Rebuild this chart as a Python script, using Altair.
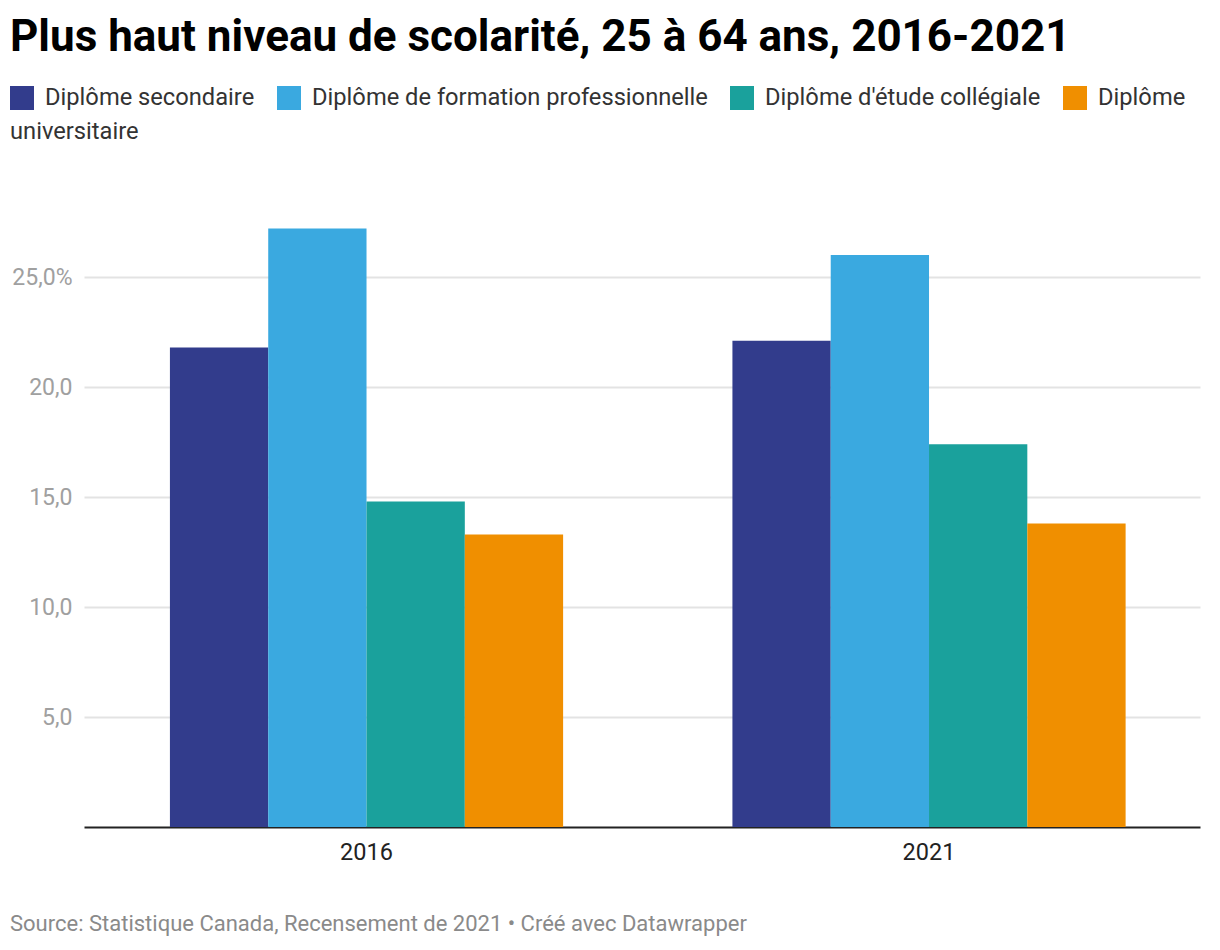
import altair as alt
import pandas as pd

years = ["2016", "2021"]
categories = [
    "Diplôme secondaire",
    "Diplôme de formation professionnelle",
    "Diplôme d'étude collégiale",
    "Diplôme universitaire",
]
secondaire = [21.8, 22.1]
professionnelle = [27.2, 26.0]
collegiale = [14.8, 17.4]
universitaire = [13.3, 13.8]
colors = ["#323c8c", "#3aa9e0", "#1aa19c", "#f08f00"]
y_ticks = [5, 10, 15, 20, 25]

title_text = "Plus haut niveau de scolarité, 25 à 64 ans, 2016-2021"
footer_text = "Source: Statistique Canada, Recensement de 2021 • Créé avec Datawrapper"

series = [secondaire, professionnelle, collegiale, universitaire]
rows = []
for cat, vals in zip(categories, series):
    for yr, v in zip(years, vals):
        rows.append({"year": yr, "category": cat, "value": v})
df = pd.DataFrame(rows)

FONT = "Roboto"

bars = alt.Chart(df).mark_bar().encode(
    x=alt.X(
        "year:N",
        scale=alt.Scale(paddingInner=0.301, paddingOuter=0.1425, align=0.536),
        axis=alt.Axis(
            title=None, labelAngle=0, ticks=False, domainColor="#222222",
            domainWidth=2, labelFont=FONT, labelFontSize=23.5, labelColor="#222222",
            labelPadding=13, grid=False,
        ),
    ),
    xOffset=alt.XOffset("category:N", sort=categories,
                        scale=alt.Scale(paddingInner=0, paddingOuter=0)),
    y=alt.Y(
        "value:Q",
        scale=alt.Scale(domain=[0, 30], nice=False),
        axis=alt.Axis(
            title=None, values=y_ticks, ticks=False, domain=False,
            gridColor="#e3e3e3", gridWidth=2, labelFont=FONT, labelFontSize=23,
            labelColor="#a0a0a0", labelPadding=12,
            labelExpr="datum.value == 25 ? '25,0%' : replace(format(datum.value, '.1f'), '.', ',')",
        ),
    ),
    color=alt.Color(
        "category:N",
        sort=categories,
        scale=alt.Scale(domain=categories, range=colors),
        legend=alt.Legend(
            title=None, orient="none", legendX=-74, legendY=-81,
            direction="horizontal", symbolType="square", symbolSize=576,
            symbolStrokeWidth=0, symbolOpacity=1, labelFont=FONT, labelFontSize=23.7,
            labelColor="#333333", labelLimit=800, labelOffset=11, columnPadding=22,
            labelExpr="datum.label == 'Diplôme universitaire' ? 'Diplôme' : datum.label",
        ),
    ),
)

title = alt.Chart(pd.DataFrame({"t": [title_text]})).mark_text(
    align="left", baseline="alphabetic", font=FONT, fontSize=44,
    fontWeight="bold", color="#000000",
).encode(text="t:N", x=alt.value(-74), y=alt.value(-116))

legend_wrap = alt.Chart(pd.DataFrame({"t": ["universitaire"]})).mark_text(
    align="left", baseline="alphabetic", font=FONT, fontSize=23.7, color="#333333",
).encode(text="t:N", x=alt.value(-74), y=alt.value(-28))

footer = alt.Chart(pd.DataFrame({"t": [footer_text]})).mark_text(
    align="left", baseline="alphabetic", font=FONT, fontSize=22, color="#8a8a8a",
).encode(text="t:N", x=alt.value(-74), y=alt.value(764))

chart = alt.layer(bars, title, legend_wrap, footer).properties(
    width=1116, height=660,
    autosize=alt.AutoSizeParams(type="none"),
    padding={"left": 76, "top": 159, "right": 12, "bottom": 110},
).configure_view(stroke=None)

chart.save("out.html", embed_options={"renderer": "svg", "actions": False})
